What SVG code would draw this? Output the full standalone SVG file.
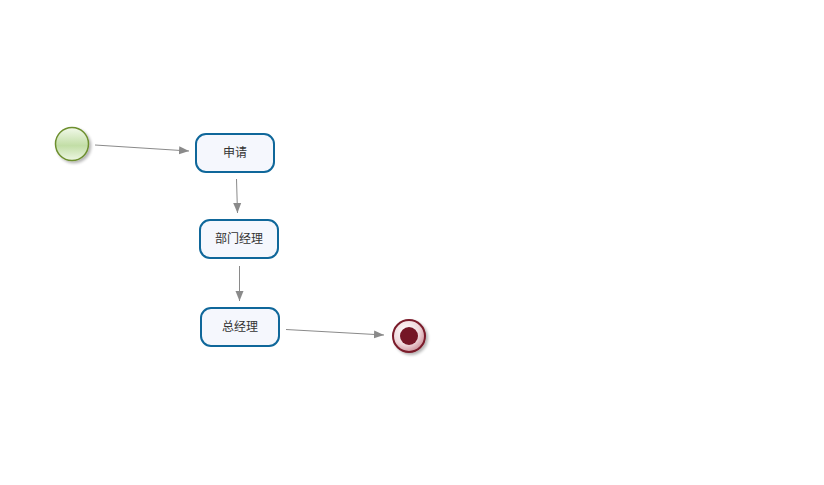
<svg xmlns="http://www.w3.org/2000/svg" width="824" height="485" viewBox="0 0 824 485">
<style>
.task rect{fill:#f5f7fd;stroke:#0f679a;stroke-width:2}
.task text{font-family:"Liberation Sans","Noto Sans CJK SC",sans-serif;font-size:12px;fill:#333;text-anchor:middle;dominant-baseline:central}
.edge{stroke:#8a8a8a;stroke-width:1;fill:none;marker-end:url(#arr)}
</style>
<defs>
<marker id="arr" viewBox="0 0 10 10" refX="10" refY="5" markerWidth="10" markerHeight="10" markerUnits="userSpaceOnUse" orient="auto">
<path d="M0,1 L10,5 L0,9 z" fill="#8a8a8a"/>
</marker>
<linearGradient id="gStart" x1="0" y1="0" x2="0" y2="1">
<stop offset="0" stop-color="#f2f9ea"/>
<stop offset="0.55" stop-color="#c2dea6"/>
<stop offset="1" stop-color="#eef7e4"/>
</linearGradient>
<radialGradient id="gEnd" cx="0.4" cy="0.35" r="0.7">
<stop offset="0" stop-color="#ffffff"/>
<stop offset="0.6" stop-color="#f0d8dc"/>
<stop offset="1" stop-color="#c98a94"/>
</radialGradient>
<filter id="sh" x="-30%" y="-30%" width="170%" height="170%">
<feGaussianBlur in="SourceAlpha" stdDeviation="1.5"/>
<feOffset dx="2" dy="2" result="b"/>
<feComponentTransfer><feFuncA type="linear" slope="0.3"/></feComponentTransfer>
<feMerge><feMergeNode/><feMergeNode in="SourceGraphic"/></feMerge>
</filter>
</defs>
<g id="connectors">
<path class="edge" d="M95,145 L189,151"/>
<path class="edge" d="M236.5,179 L237.5,213"/>
<path class="edge" d="M239.5,266 L239.5,301"/>
<path class="edge" d="M286,329.5 L384,335"/>
</g>
<g id="start">
<circle cx="72" cy="144" r="16.5" fill="url(#gStart)" stroke="#6d8f2e" stroke-width="1.5" filter="url(#sh)"/>
</g>
<g id="task1" class="task">
<rect x="196" y="134" width="78" height="38" rx="10"/>
<text x="235" y="153">申请</text>
</g>
<g id="task2" class="task">
<rect x="200" y="220" width="78" height="38" rx="10"/>
<text x="239" y="239">部门经理</text>
</g>
<g id="task3" class="task">
<rect x="201" y="308" width="78" height="38" rx="10"/>
<text x="240" y="327">总经理</text>
</g>
<g id="end">
<circle cx="409" cy="336" r="16" fill="url(#gEnd)" stroke="#7a1a2a" stroke-width="2" filter="url(#sh)"/>
<circle cx="409" cy="336" r="9" fill="#751626"/>
</g>
</svg>
